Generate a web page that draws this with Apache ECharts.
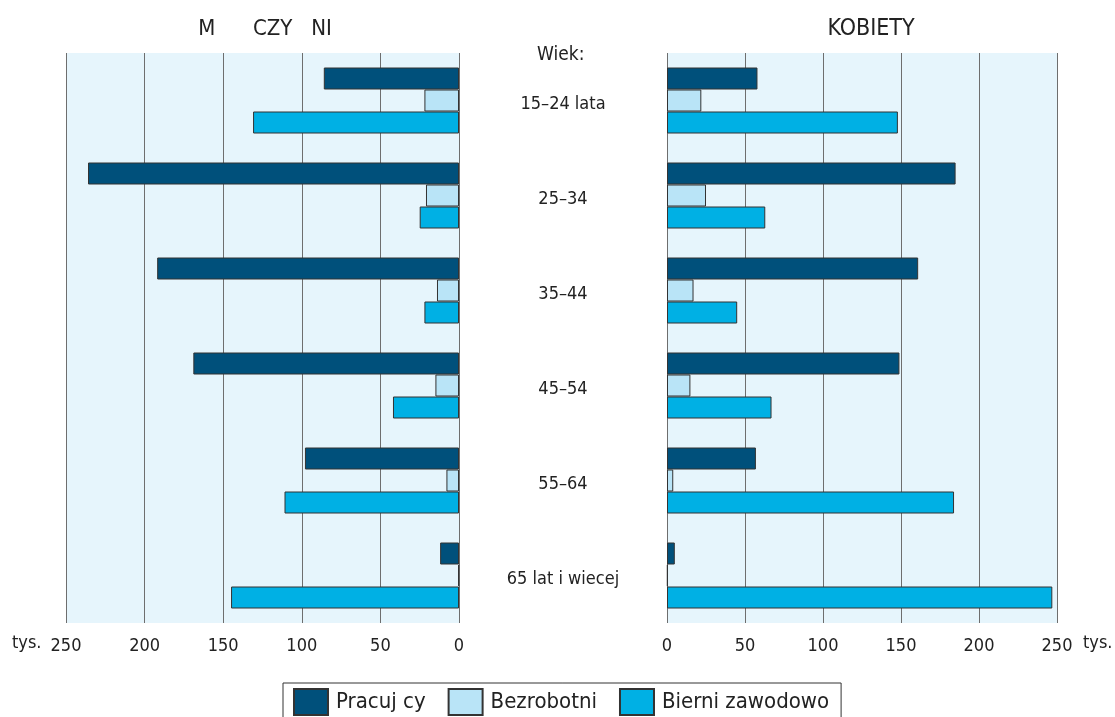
<!DOCTYPE html>
<html>
<head>
<meta charset="utf-8">
<script src="https://cdn.jsdelivr.net/npm/echarts@6/dist/echarts.min.js"></script>
<style>
  html, body { margin: 0; padding: 0; background: #fff; }
  #chart { width: 1115px; height: 717px; }
</style>
</head>
<body>
<div id="chart"></div>
<script>
// grupy wieku
const ageGroups = ['15–24 lata', '25–34', '35–44', '45–54', '55–64', '65 lat i wiecej']
const seriesNames = ['Pracuj cy', 'Bezrobotni', 'Bierni zawodowo']

// mezczyzni (tys.)
const menWorking = [86, 236, 192, 169, 98, 12]
const menUnemployed = [22, 21, 14, 15, 8, 0.5]
const menInactive = [131, 25, 22, 42, 111, 145]

// kobiety (tys.)
const womenWorking = [58, 185, 161, 149, 57, 5]
const womenUnemployed = [22, 25, 17, 15, 4, 0.5]
const womenInactive = [148, 63, 45, 67, 184, 247]

const colors = ['#00507b', '#b9e4f7', '#00b0e4']
const font = "'Liberation Sans Narrow', 'DejaVu Sans Condensed', 'Liberation Sans', sans-serif"

const chart = echarts.init(document.getElementById('chart'))

const valueAxis = (gridIndex, inverse) => ({
  type: 'value',
  gridIndex: gridIndex,
  min: 0,
  max: 250,
  interval: 50,
  inverse: inverse,
  axisLine: { show: false },
  axisTick: { show: false },
  axisLabel: { color: '#222', fontSize: 18, fontFamily: font, margin: 14 },
  splitLine: { show: true, lineStyle: { color: '#6e6e6e', width: 1 } }
})

const makeBar = (name, data, idx, axisIdx) => ({
  name: name,
  type: 'bar',
  xAxisIndex: axisIdx,
  yAxisIndex: axisIdx,
  data: data,
  barWidth: 22,
  barGap: '0%',
  itemStyle: { color: colors[idx], borderColor: '#333', borderWidth: 1 }
})

const option = {
  animation: false,
  textStyle: { fontFamily: font },
  title: [
    { text: 'M      CZY   NI', left: 260, top: 13, textAlign: 'center',
      textStyle: { fontSize: 22, fontWeight: 'normal', color: '#222', fontFamily: font } },
    { text: 'KOBIETY', left: 866, top: 13, textAlign: 'center',
      textStyle: { fontSize: 23, fontWeight: 'normal', color: '#222', fontFamily: font } }
  ],
  grid: [
    { left: 66, right: 656, top: 53, height: 570, show: true, backgroundColor: '#e6f5fc', borderWidth: 0 },
    { left: 667, right: 58, top: 53, height: 570, show: true, backgroundColor: '#e6f5fc', borderWidth: 0 },
    // tylko etykiety grup wieku, lekko przesuniete w dol
    { left: 667, right: 58, top: 57, height: 570, show: false }
  ],
  xAxis: [
    valueAxis(0, true),
    valueAxis(1, false),
    { type: 'value', gridIndex: 2, show: false, min: 0, max: 250 }
  ],
  yAxis: [
    { type: 'category', gridIndex: 0, data: ageGroups, inverse: true,
      axisLine: { show: false }, axisTick: { show: false }, axisLabel: { show: false } },
    { type: 'category', gridIndex: 1, data: ageGroups, inverse: true,
      axisLine: { show: false }, axisTick: { show: false }, axisLabel: { show: false } },
    { type: 'category', gridIndex: 2, data: ageGroups, inverse: true,
      axisLine: { show: false }, axisTick: { show: false }, splitLine: { show: false },
      axisLabel: { show: true, align: 'center', margin: 104, color: '#222', fontSize: 18, fontFamily: font } }
  ],
  legend: {
    data: seriesNames,
    icon: 'rect',
    left: 283,
    top: 683,
    itemWidth: 34,
    itemHeight: 26,
    itemGap: 22,
    padding: [5, 12, 8, 10],
    borderColor: '#333',
    borderWidth: 1,
    backgroundColor: '#fff',
    textStyle: { fontSize: 22, color: '#222', fontFamily: font, padding: [0, 0, 0, 3] }
  },
  graphic: [
    { type: 'text', left: 537, top: 46, style: { text: 'Wiek:', fontSize: 19, fill: '#222', fontFamily: font } },
    { type: 'text', left: 12, top: 634, style: { text: 'tys.', fontSize: 18, fill: '#222', fontFamily: font } },
    { type: 'text', left: 1083, top: 634, style: { text: 'tys.', fontSize: 18, fill: '#222', fontFamily: font } }
  ],
  series: [
    makeBar(seriesNames[0], menWorking, 0, 0),
    makeBar(seriesNames[1], menUnemployed, 1, 0),
    makeBar(seriesNames[2], menInactive, 2, 0),
    makeBar(seriesNames[0], womenWorking, 0, 1),
    makeBar(seriesNames[1], womenUnemployed, 1, 1),
    makeBar(seriesNames[2], womenInactive, 2, 1)
  ]
}

chart.setOption(option)
</script>
</body>
</html>
